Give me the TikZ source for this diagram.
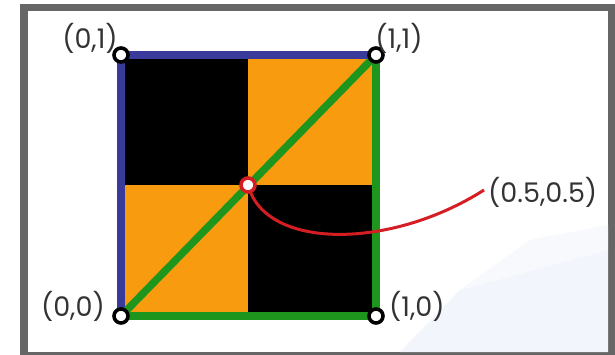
\documentclass[tikz,border=0pt]{standalone}
\usepackage{fontspec}
\setmainfont{Poppins}
\definecolor{fr}{HTML}{666666}
\definecolor{org}{HTML}{F99B0F}
\definecolor{grn}{HTML}{1E961E}
\definecolor{blu}{HTML}{3A3A9A}
\definecolor{crv}{HTML}{D41E24}
\definecolor{tile}{HTML}{F3F5FC}
\tikzset{
  vtx/.style={circle,draw=black,fill=white,line width=3.6pt,inner sep=0pt,minimum size=14pt},
  ctr/.style={circle,draw=crv,fill=white,line width=3.6pt,inner sep=0pt,minimum size=14pt},
  lbl/.style={font=\fontsize{27}{30}\selectfont,text=black!80,inner sep=0pt},
  edge/.style={line width=7.5pt}
}
\begin{document}
\begin{tikzpicture}[x=1pt,y=-1pt]
\useasboundingbox (0,0) rectangle (615,355);
% frame
\fill[fr] (20,4) rectangle (615,355);
\fill[white] (28,11) rectangle (608,352);
% faint background tiles
\fill[tile] (400,352) -- (460,290) -- (608,250) -- (608,352) -- cycle;
\fill[tile!60] (460,290) -- (530,240) -- (608,225) -- (608,250) -- cycle;
% quadrants
\fill[black] (121,55) rectangle (248,185);
\fill[org] (248,55) rectangle (376,185);
\fill[org] (121,185) rectangle (248,316);
\fill[black] (248,185) rectangle (376,316);
% coordinates
\coordinate (A) at (121,316);
\coordinate (B) at (376,316);
\coordinate (C) at (376,55);
\coordinate (D) at (121,55);
\coordinate (M) at (248,185);
% edges
\draw[edge,blu] (A) -- (D) -- (C);
\draw[edge,grn] (C) -- (B) -- (A);
\draw[edge,grn] (A) -- (C);
% curve
\coordinate (E) at (484,190);
\draw[crv,line width=3pt] (M) .. controls (265,250) and (390,250) .. (E);
% vertices
\node[vtx] (n00) at (A) {};
\node[vtx] (n10) at (B) {};
\node[vtx] (n11) at (C) {};
\node[vtx] (n01) at (D) {};
\node[ctr] (nm) at (M) {};
% labels
\node[lbl,anchor=east] (l00) at (105,306) {(0,0)};
\node[lbl,anchor=west] (l10) at (389,306) {(1,0)};
\node[lbl] (l01) at (90,38) {(0,1)};
\node[lbl] (l11) at (399,38) {(1,1)};
\node[lbl,anchor=west] (lm) at (488,192) {(0.5,0.5)};
\end{tikzpicture}
\end{document}
